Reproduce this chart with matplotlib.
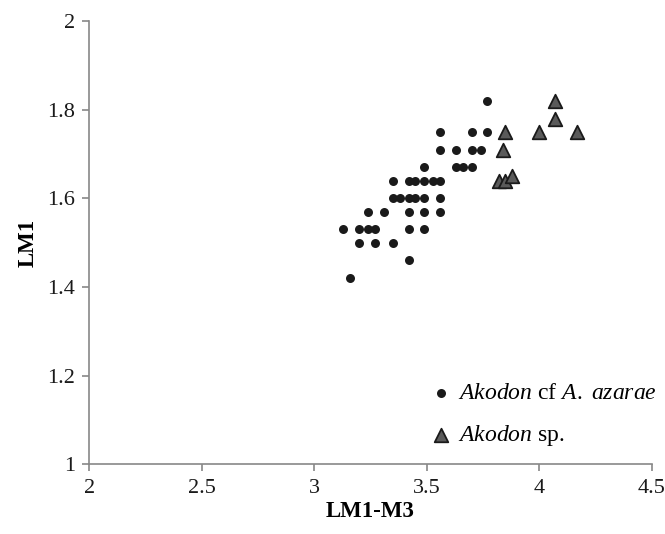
import numpy as np
import matplotlib.pyplot as plt

plt.rcParams['font.family'] = 'Liberation Serif'
plt.rcParams['mathtext.fontset'] = 'custom'
plt.rcParams['mathtext.rm'] = 'Liberation Serif'
plt.rcParams['mathtext.it'] = 'Liberation Serif:italic'

# Akodon cf A. azarae
azarae_x = [3.77,
            3.56, 3.70, 3.77,
            3.56, 3.63, 3.70, 3.74,
            3.49, 3.63, 3.66, 3.70,
            3.35, 3.42, 3.45, 3.49, 3.53, 3.56,
            3.35, 3.38, 3.42, 3.45, 3.49, 3.56,
            3.24, 3.31, 3.42, 3.49, 3.56,
            3.13, 3.20, 3.24, 3.27, 3.42, 3.49,
            3.20, 3.27, 3.35,
            3.42,
            3.16]
azarae_y = [1.82,
            1.75, 1.75, 1.75,
            1.71, 1.71, 1.71, 1.71,
            1.67, 1.67, 1.67, 1.67,
            1.64, 1.64, 1.64, 1.64, 1.64, 1.64,
            1.60, 1.60, 1.60, 1.60, 1.60, 1.60,
            1.57, 1.57, 1.57, 1.57, 1.57,
            1.53, 1.53, 1.53, 1.53, 1.53, 1.53,
            1.50, 1.50, 1.50,
            1.46,
            1.42]

# Akodon sp.
sp_x = [4.07, 4.07, 3.85, 4.00, 4.17, 3.84, 3.82, 3.85, 3.88]
sp_y = [1.82, 1.78, 1.75, 1.75, 1.75, 1.71, 1.64, 1.64, 1.65]

fig = plt.figure(figsize=(6.65, 5.34), dpi=100)
ax = fig.add_axes([0.134, 0.131, 0.846, 0.829])

ax.scatter(azarae_x, azarae_y, s=42, c='#1a1a1a', marker='o', linewidths=0,
           label=r'$\mathit{Akodon}$ cf $\mathit{A.\ azarae}$', zorder=3)
ax.scatter(sp_x, sp_y, s=95, c='#5a5a5a', marker='^', edgecolors='#1a1a1a',
           linewidths=1.3, label=r'$\mathit{Akodon}$ sp.', zorder=3)

ax.set_xlim(2, 4.5)
ax.set_ylim(1, 2)
ax.set_xticks([2, 2.5, 3, 3.5, 4, 4.5])
ax.set_xticklabels(['2', '2.5', '3', '3.5', '4', '4.5'])
ax.set_yticks([1, 1.2, 1.4, 1.6, 1.8, 2])
ax.set_yticklabels(['1', '1.2', '1.4', '1.6', '1.8', '2'])

for side in ['top', 'right']:
    ax.spines[side].set_visible(False)
for side in ['left', 'bottom']:
    ax.spines[side].set_color('#888888')
    ax.spines[side].set_linewidth(1.2)
ax.tick_params(colors='#888888', labelcolor='#1a1a1a', labelsize=16,
               length=5, width=1.2)
ax.tick_params(axis='x', pad=6)
ax.tick_params(axis='y', pad=5)

ax.set_xlabel('LM1-M3', fontsize=16.5, fontweight='bold', labelpad=2)
ax.set_ylabel('LM1', fontsize=16.5, fontweight='bold', labelpad=6)

ax.legend(loc='upper left', bbox_to_anchor=(0.645, 0.284),
          bbox_transform=fig.transFigure, frameon=False, fontsize=17,
          borderpad=0, borderaxespad=0, handlelength=1.0,
          handletextpad=0.22, labelspacing=0.8, markerscale=1.0)

plt.savefig('out.png', dpi=100)
